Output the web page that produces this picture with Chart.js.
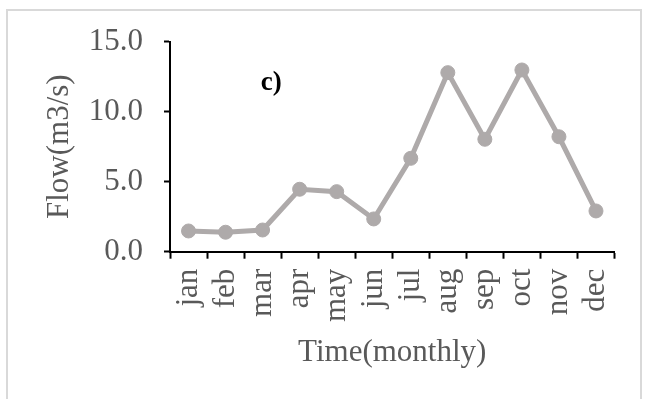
<!DOCTYPE html>
<html>
<head>
<meta charset="utf-8">
<script src="https://cdn.jsdelivr.net/npm/chart.js@4.4.1/dist/chart.umd.min.js"></script>
<style>
  html, body { margin: 0; padding: 0; background: #fff; }
  body { width: 646px; height: 399px; position: relative; overflow: hidden; }
  #frame {
    position: absolute; left: 6px; top: 9px; width: 636px; height: 430px;
    border: 2px solid #d9d9d9; box-sizing: border-box;
  }
  #wrap { position: absolute; left: 0; top: 0; width: 646px; height: 399px; }
</style>
</head>
<body>
<div id="frame"></div>
<div id="wrap"><canvas id="flow-chart"></canvas></div>
<script>
// Monthly flow, panel c)
const months = ["jan", "feb", "mar", "apr", "may", "jun", "jul", "aug", "sep", "oct", "nov", "dec"];
const flow = [1.48, 1.39, 1.55, 4.46, 4.29, 2.34, 6.67, 12.79, 8.03, 12.98, 8.21, 2.91];
const yTicks = [0, 5, 10, 15];
const panelLabel = "c)";

const FONT = "'Liberation Serif', 'Times New Roman', serif";
const TEXT = "#595959";

// draws the bold panel letter inside the plot
const panelLabelPlugin = {
  id: "panelLabel",
  afterDraw(chart) {
    const { ctx, chartArea } = chart;
    ctx.save();
    ctx.font = "bold 27px " + FONT;
    ctx.fillStyle = "#000";
    ctx.textAlign = "center";
    ctx.textBaseline = "middle";
    const x = chartArea.left + (chartArea.right - chartArea.left) * 0.228;
    const y = chartArea.top + (chartArea.bottom - chartArea.top) * 0.197;
    ctx.fillText(panelLabel, x, y);
    ctx.restore();
  },
};

const ctx = document.getElementById("flow-chart");
new Chart(ctx, {
  type: "line",
  data: {
    labels: months,
    datasets: [
      {
        label: "Flow",
        data: flow,
        borderColor: "#aeaaaa",
        backgroundColor: "#aeaaaa",
        borderWidth: 5,
        pointRadius: 7,
        pointBorderWidth: 1,
        pointBackgroundColor: "#aeaaaa",
        pointBorderColor: "#aeaaaa",
        tension: 0,
      },
    ],
  },
  options: {
    responsive: true,
    maintainAspectRatio: false,
    animation: false,
    layout: { padding: { top: 41.7, right: 31.5, left: 0, bottom: 0 } },
    plugins: {
      legend: { display: false },
      tooltip: { enabled: false },
    },
    scales: {
      x: {
        offset: true,
        grid: {
          offset: true,
          drawOnChartArea: false,
          drawTicks: true,
          tickLength: 7,
          tickWidth: 2,
          tickColor: "#000",
        },
        border: { color: "#000", width: 2 },
        ticks: {
          color: TEXT,
          font: { family: FONT, size: 31 },
          minRotation: 90,
          maxRotation: 90,
          padding: 10,
          autoSkip: false,
        },
        title: {
          display: true,
          text: "Time(monthly)",
          color: TEXT,
          font: { family: FONT, size: 31 },
          padding: { top: 0, bottom: 28 },
        },
        afterFit(scale) {
          scale.height = 147.3;
        },
      },
      y: {
        min: 0,
        max: 15,
        grid: {
          drawOnChartArea: false,
          drawTicks: true,
          tickLength: 6,
          tickWidth: 2,
          tickColor: "#000",
        },
        border: { color: "#000", width: 2 },
        afterBuildTicks(scale) {
          scale.ticks = yTicks.map((v) => ({ value: v }));
        },
        ticks: {
          color: TEXT,
          font: { family: FONT, size: 31 },
          padding: 21,
          callback: (v) => Number(v).toFixed(1),
        },
        title: {
          display: true,
          text: "Flow(m3/s)",
          color: TEXT,
          font: { family: FONT, size: 31 },
          padding: { top: 41, bottom: 0 },
        },
        afterFit(scale) {
          scale.width = 170;
        },
      },
    },
  },
  plugins: [panelLabelPlugin],
});
</script>
</body>
</html>
